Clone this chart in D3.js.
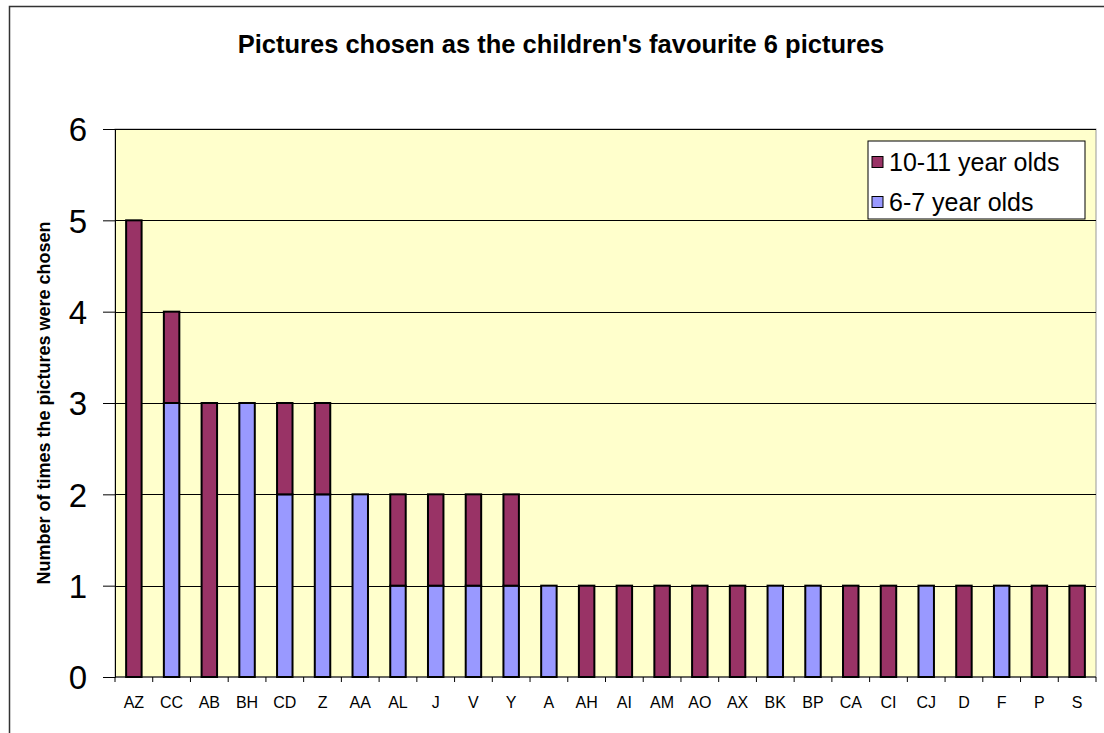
<!DOCTYPE html>
<html>
<head>
<meta charset="utf-8">
<script src="https://cdn.jsdelivr.net/npm/d3@7"></script>
<style>
  body { margin: 0; background: #fff; }
  svg { display: block; font-family: "Liberation Sans", Arial, sans-serif; }
</style>
</head>
<body>
<div id="chart"></div>
<script>
// data
var categories = ["AZ","CC","AB","BH","CD","Z","AA","AL","J","V","Y","A","AH","AI","AM","AO","AX","BK","BP","CA","CI","CJ","D","F","P","S"];
var young = [0,3,0,3,2,2,2,1,1,1,1,1,0,0,0,0,0,1,1,0,0,1,0,1,0,0];   // 6-7 year olds
var older = [5,1,3,0,1,1,0,1,1,1,1,0,1,1,1,1,1,0,0,1,1,0,1,0,1,1];   // 10-11 year olds
var seriesNames = ["6-7 year olds","10-11 year olds"];
var seriesColors = ["#9999ff","#993366"];
var yTicks = [0,1,2,3,4,5,6];

var W = 1104, H = 733;
var margin = {top: 129, right: 8, bottom: 56, left: 115};
var innerW = W - margin.left - margin.right,
    innerH = H - margin.top - margin.bottom;

var svg = d3.select("#chart").append("svg")
  .attr("width", W)
  .attr("height", H);

// outer chart border
svg.append("rect")
  .attr("x", 9.5).attr("y", 6.5)
  .attr("width", W).attr("height", H)
  .attr("fill", "none").attr("stroke", "#333").attr("stroke-width", 1.5);

svg.append("text")
  .attr("x", 561).attr("y", 53)
  .attr("text-anchor", "middle")
  .style("font-size", "25.5px").style("font-weight", "bold")
  .text("Pictures chosen as the children's favourite 6 pictures");

var g = svg.append("g")
  .attr("transform", "translate(" + margin.left + "," + margin.top + ")");

var x = d3.scaleBand().domain(categories).range([0, innerW]).paddingInner(0.59).paddingOuter(0.295);
var y = d3.scaleLinear().domain([0, 6]).range([innerH, 0]);

g.append("rect")
  .attr("width", innerW).attr("height", innerH)
  .attr("fill", "#ffffcc").attr("stroke", "#999").attr("stroke-width", 1);

// gridlines
g.selectAll(".grid").data(yTicks.slice(1))
  .enter().append("line")
  .attr("x1", 0).attr("x2", innerW)
  .attr("y1", function(d) { return Math.round(y(d)) + 0.5; })
  .attr("y2", function(d) { return Math.round(y(d)) + 0.5; })
  .attr("stroke", "#000").attr("stroke-width", 1);

// stacked bars
var rows = categories.map(function(c, i) { return {cat: c, young: young[i], older: older[i]}; });
var stack = d3.stack().keys(["young","older"])(rows);

g.selectAll(".series").data(stack)
  .enter().append("g")
  .attr("fill", function(d, i) { return seriesColors[i]; })
  .selectAll("rect")
  .data(function(d) { return d.filter(function(p) { return p[1] > p[0]; }); })
  .enter().append("rect")
  .attr("x", function(d) { return x(d.data.cat); })
  .attr("y", function(d) { return y(d[1]); })
  .attr("width", x.bandwidth())
  .attr("height", function(d) { return y(d[0]) - y(d[1]); })
  .attr("stroke", "#000").attr("stroke-width", 2);

// y axis
var yAxis = g.append("g")
  .call(d3.axisLeft(y).tickValues(yTicks).tickSize(12).tickPadding(16).tickFormat(d3.format("d")));
yAxis.selectAll("text").style("font-size", "33px").attr("dy", "0.36em");
yAxis.select(".domain").attr("stroke", "#000");

// x axis with ticks at band edges
var xAxis = g.append("g").attr("transform", "translate(0," + innerH + ")");
xAxis.append("line").attr("x1", 0).attr("x2", innerW).attr("stroke", "#000");
xAxis.selectAll(".tick").data(d3.range(categories.length + 1))
  .enter().append("line")
  .attr("x1", function(i) { return i * x.step(); })
  .attr("x2", function(i) { return i * x.step(); })
  .attr("y1", 0).attr("y2", 5).attr("stroke", "#000");
xAxis.selectAll(".lab").data(categories)
  .enter().append("text")
  .attr("x", function(d) { return x(d) + x.bandwidth() / 2; })
  .attr("y", 31)
  .attr("text-anchor", "middle")
  .style("font-size", "16px")
  .text(function(d) { return d; });

// y axis title
svg.append("text")
  .attr("transform", "translate(50," + 403 + ") rotate(-90)")
  .attr("text-anchor", "middle")
  .style("font-size", "18px").style("font-weight", "bold")
  .text("Number of times the pictures were chosen");

// legend
var leg = svg.append("g").attr("transform", "translate(868,141)");
leg.append("rect").attr("width", 217).attr("height", 78)
  .attr("fill", "#fff").attr("stroke", "#000");
var legItems = [{name: seriesNames[1], color: seriesColors[1]}, {name: seriesNames[0], color: seriesColors[0]}];
var li = leg.selectAll(".item").data(legItems).enter().append("g")
  .attr("transform", function(d, i) { return "translate(4," + (21 + i * 40) + ")"; });
li.append("rect").attr("x", 0).attr("y", -5.5).attr("width", 11).attr("height", 11)
  .attr("fill", function(d) { return d.color; }).attr("stroke", "#000");
li.append("text").attr("x", 17).attr("dy", "0.36em")
  .style("font-size", "25px")
  .text(function(d) { return d.name; });
</script>
</body>
</html>
